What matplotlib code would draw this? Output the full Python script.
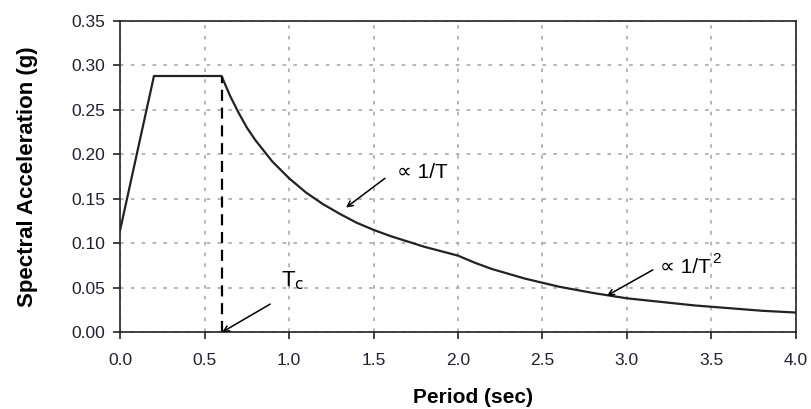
import matplotlib
matplotlib.use("Agg")
import matplotlib.pyplot as plt

# ======================================
# Data
# ======================================

period = [0.0, 0.2, 0.6, 0.65, 0.7, 0.75, 0.8, 0.9, 1.0, 1.1, 1.2, 1.3, 1.4,
          1.5, 1.6, 1.7, 1.8, 1.9, 2.0, 2.1, 2.2, 2.4, 2.6, 2.8, 3.0, 3.2,
          3.4, 3.6, 3.8, 4.0]
spectral_acc = [0.115, 0.288, 0.288, 0.266, 0.247, 0.230, 0.216, 0.192,
                0.173, 0.157, 0.144, 0.133, 0.123, 0.115, 0.108, 0.102,
                0.096, 0.091, 0.086, 0.078, 0.071, 0.060, 0.051, 0.044,
                0.038, 0.034, 0.030, 0.027, 0.024, 0.022]

tc_period = 0.6
tc_acc = 0.288

x_ticks = [0.0, 0.5, 1.0, 1.5, 2.0, 2.5, 3.0, 3.5, 4.0]
y_ticks = [0.00, 0.05, 0.10, 0.15, 0.20, 0.25, 0.30, 0.35]

# ======================================
# Plot
# ======================================

plt.rcParams["font.family"] = ["Liberation Sans", "DejaVu Sans"]

fig = plt.figure(figsize=(8.12, 4.09), dpi=100)
ax = fig.add_axes([0.148, 0.188, 0.832, 0.761])

ax.plot(period, spectral_acc, color="#222222", linewidth=1.6)
ax.plot([tc_period, tc_period], [0, tc_acc], color="black",
        linewidth=1.6, linestyle=(0, (5, 3)))

ax.set_xlim(0, 4.0)
ax.set_ylim(0, 0.35)
ax.set_xticks(x_ticks)
ax.set_yticks(y_ticks)
ax.set_xticklabels([f"{v:.1f}" for v in x_ticks])
ax.set_yticklabels([f"{v:.2f}" for v in y_ticks])
ax.tick_params(labelsize=12.5, colors="#222222", length=5, width=1.2,
               direction="out")
ax.tick_params(axis="x", pad=10)
ax.tick_params(axis="y", pad=6)
for lbl in ax.get_xticklabels() + ax.get_yticklabels():
    lbl.set_color("#202030")

ax.grid(True, color="#b0b0b0", linestyle=(0, (2, 4)), linewidth=1.3)
ax.set_axisbelow(True)
for side in ["left", "bottom", "top", "right"]:
    ax.spines[side].set_linewidth(1.2)
    ax.spines[side].set_color("#222222")

ax.set_xlabel("Period (sec)", fontsize=15, fontweight="bold")
ax.set_ylabel("Spectral Acceleration (g)", fontsize=16, fontweight="bold")
ax.xaxis.set_label_coords(0.522, -0.178)
ax.yaxis.set_label_coords(-0.122, 0.5)

# Annotations
arrow = dict(arrowstyle="->", color="black", linewidth=1.1,
             shrinkA=0, shrinkB=0)
ax.annotate("", xy=(1.337, 0.140), xytext=(1.568, 0.173), arrowprops=arrow)
ax.text(1.64, 0.179, "\u221d 1/T", fontsize=15, va="center", ha="left")

ax.annotate("", xy=(2.882, 0.041), xytext=(3.154, 0.070), arrowprops=arrow)
t2 = ax.text(3.195, 0.073, "\u221d 1/T", fontsize=15, va="center",
             ha="left")
ax.annotate("2", xy=(1.0, 0.55), xycoords=t2, xytext=(1, 0),
            textcoords="offset points", fontsize=11, va="bottom", ha="left")

ax.annotate("", xy=(0.604, 0.0), xytext=(0.888, 0.0315), arrowprops=arrow)
ax.text(0.955, 0.058, "T$_\\mathrm{c}$", fontsize=16, va="center",
        ha="left")

plt.savefig("out.png", dpi=100)
plt.close()
